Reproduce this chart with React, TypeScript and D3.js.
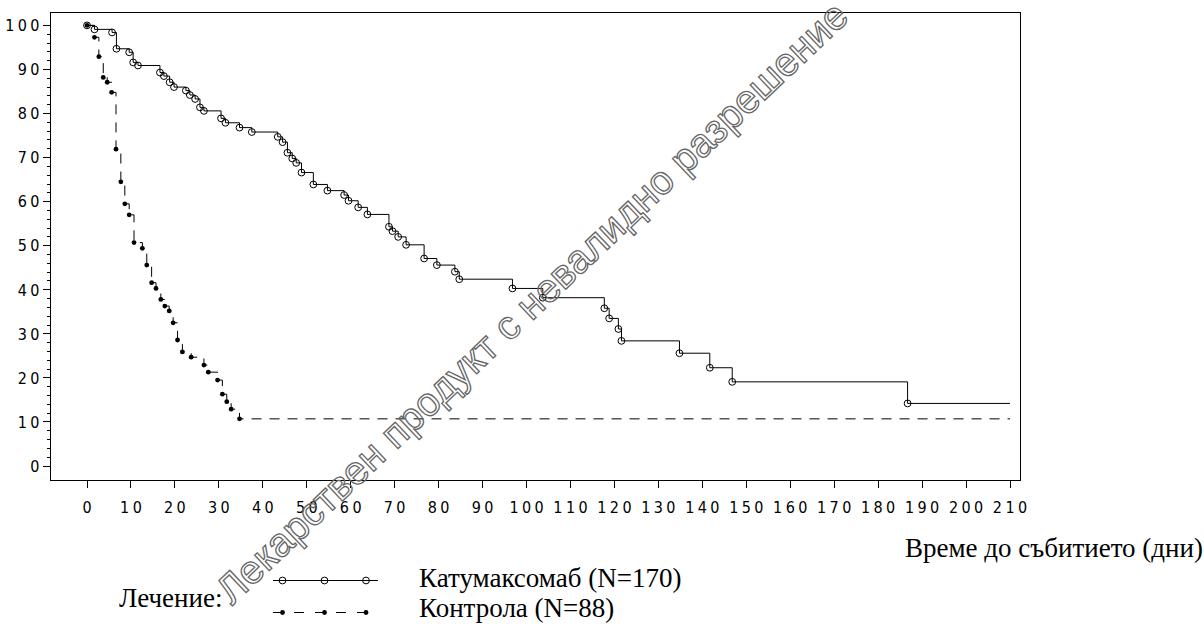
import React from "react";
import * as d3 from "d3";

// ---- Data ----
const catTime = [0, 1.7, 5.7, 6.7, 9.6, 10.5, 11.6, 16.6, 17.5, 18.8, 19.8, 22.5, 23.4, 24.6, 25.7, 26.6, 30.5, 31.5, 34.7, 37.5, 43.4, 44.5, 45.6, 46.7, 47.6, 48.8, 51.5, 54.7, 58.5, 59.5, 61.7, 63.8, 68.7, 69.5, 70.8, 72.6, 76.7, 79.6, 83.7, 84.7, 96.8, 103.7, 117.7, 118.8, 120.9, 121.6, 134.8, 141.7, 146.8, 186.7];
const catSurv = [100, 99.1, 98.4, 94.7, 93.9, 91.6, 90.9, 89.3, 88.5, 87.1, 86.0, 85.2, 84.2, 83.3, 81.4, 80.6, 78.9, 77.9, 76.8, 75.8, 74.7, 73.5, 71.1, 69.8, 68.8, 66.6, 63.9, 62.5, 61.5, 60.2, 58.7, 57.1, 54.3, 53.3, 52.0, 50.2, 47.1, 45.6, 44.1, 42.4, 40.3, 38.2, 35.8, 33.5, 31.1, 28.4, 25.6, 22.3, 19.1, 14.2];
const ctlTime = [0, 1.7, 2.7, 3.7, 4.6, 5.6, 6.6, 7.7, 8.6, 9.6, 10.7, 12.6, 13.6, 14.7, 15.7, 16.8, 17.7, 18.7, 19.6, 20.6, 21.7, 23.7, 26.6, 27.6, 29.7, 30.8, 31.8, 32.8, 34.7];
const ctlSurv = [100, 97.3, 92.9, 88.2, 87.1, 84.8, 71.9, 64.5, 59.5, 57.0, 50.7, 49.4, 45.6, 41.6, 40.3, 37.8, 36.3, 35.2, 32.5, 28.6, 25.9, 24.7, 22.9, 21.3, 19.5, 16.3, 14.6, 12.9, 10.7];
const followUpEnd = 210;
const xTicks = d3.range(0, 211, 10);
const yTicks = d3.range(0, 101, 10);
const yMinorTicks = d3.range(0, 101, 2).filter((v) => v % 10 !== 0);
const seriesNames = ["Катумаксомаб (N=170)", "Контрола (N=88)"];
const legendTitle = "Лечение:";
const xAxisTitle = "Време до събитието (дни)";
const watermark = "Лекарствен продукт с невалидно разрешение";

// ---- Layout ----
const W = 1204;
const H = 624;
const frame = { left: 50, right: 1020, top: 12.5, bottom: 480.5 };
const x = d3.scaleLinear().domain([0, 210]).range([87, 1010]);
const y = d3.scaleLinear().domain([0, 100]).range([466, 25.4]);

const tickFont = "'Liberation Sans Narrow', 'DejaVu Sans Condensed', 'Arial Narrow', sans-serif";
const serif = "'Liberation Serif', 'Times New Roman', serif";
const LS = 3.4;
const textSize = 27;

type Pt = [number, number];

function stepPath(times: number[], surv: number[]): string {
  const pts: Pt[] = times.map((t, i) => [t, surv[i]] as Pt);
  pts.push([followUpEnd, surv[surv.length - 1]]);
  const line = d3
    .line<Pt>()
    .x((d) => x(d[0]))
    .y((d) => y(d[1]))
    .curve(d3.curveStepAfter);
  return line(pts) || "";
}

export default function App() {
  const catPath = stepPath(catTime, catSurv);
  const ctlPath = stepPath(ctlTime, ctlSurv);
  const legendX = [282.5, 324.5, 366];

  return (
    <svg
      width={W}
      height={H}
      viewBox={`0 0 ${W} ${H}`}
      style={{ position: "absolute", left: 0, top: 0, background: "#fff" }}
    >
      <rect x={0} y={0} width={W} height={H} fill="#fff" />
      {/* frame */}
      <rect
        x={frame.left}
        y={frame.top}
        width={frame.right - frame.left}
        height={frame.bottom - frame.top}
        fill="none"
        stroke="#000"
        strokeWidth={1}
        shapeRendering="crispEdges"
      />
      {/* y axis ticks */}
      {yTicks.map((v) => (
        <g key={"y" + v}>
          <line x1={43} x2={frame.left} y1={y(v)} y2={y(v)} stroke="#000" shapeRendering="crispEdges" />
          <text
            x={39.5 + LS}
            y={y(v)}
            dy="0.36em"
            textAnchor="end"
            fontFamily={tickFont}
            fontSize={16}
            letterSpacing={LS}
            fill="#000"
          >
            {v}
          </text>
        </g>
      ))}
      {yMinorTicks.map((v) => (
        <line key={"ym" + v} x1={46.5} x2={frame.left} y1={y(v)} y2={y(v)} stroke="#000" shapeRendering="crispEdges" />
      ))}
      {/* x axis ticks */}
      {xTicks.map((t) => (
        <g key={"x" + t}>
          <line x1={x(t)} x2={x(t)} y1={frame.bottom} y2={488} stroke="#000" shapeRendering="crispEdges" />
          <text
            x={x(t) + LS / 2}
            y={507.5}
            dy="0.36em"
            textAnchor="middle"
            fontFamily={tickFont}
            fontSize={16}
            letterSpacing={LS}
            fill="#000"
          >
            {t}
          </text>
        </g>
      ))}
      {/* curves */}
      <path d={ctlPath} fill="none" stroke="#000" strokeWidth={1} strokeDasharray="10,8" />
      <path d={catPath} fill="none" stroke="#000" strokeWidth={1} />
      {catTime.map((t, i) => (
        <circle key={"c" + i} cx={x(t)} cy={y(catSurv[i])} r={3.4} fill="none" stroke="#000" strokeWidth={1} />
      ))}
      {ctlTime.map((t, i) => (
        <circle key={"k" + i} cx={x(t)} cy={y(ctlSurv[i])} r={2.4} fill="#000" />
      ))}
      {/* x axis title */}
      <text x={905} y={557} fontFamily={serif} fontSize={textSize} fill="#000">
        {xAxisTitle}
      </text>
      {/* legend */}
      <text x={119} y={606.7} fontFamily={serif} fontSize={textSize} fill="#000">
        {legendTitle}
      </text>
      <line x1={273} x2={378} y1={580.5} y2={580.5} stroke="#000" shapeRendering="crispEdges" />
      {legendX.map((lx) => (
        <circle key={"lc" + lx} cx={lx} cy={580.5} r={3.4} fill="none" stroke="#000" />
      ))}
      <line x1={273} x2={378} y1={612.5} y2={612.5} stroke="#000" strokeDasharray="10,11" shapeRendering="crispEdges" />
      {legendX.map((lx) => (
        <circle key={"lk" + lx} cx={lx} cy={612.5} r={2.4} fill="#000" />
      ))}
      <text x={419} y={587.3} fontFamily={serif} fontSize={textSize} fill="#000">
        {seriesNames[0]}
      </text>
      <text x={419} y={617.3} fontFamily={serif} fontSize={textSize} fill="#000">
        {seriesNames[1]}
      </text>
      {/* watermark */}
      <text
        transform="translate(232,606) rotate(-43.5)"
        fontFamily="'Liberation Sans', Arial, sans-serif"
        fontSize={40}
        fill="none"
        stroke="#666"
        strokeWidth={1.3}
      >
        {watermark}
      </text>
    </svg>
  );
}
